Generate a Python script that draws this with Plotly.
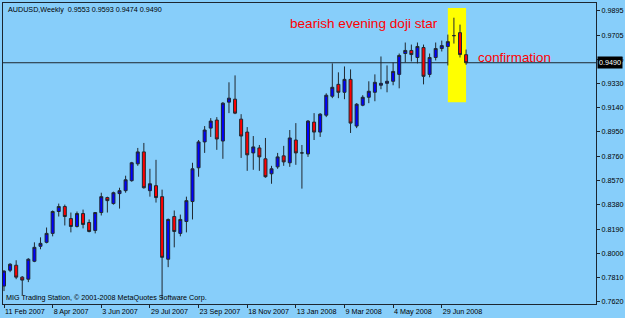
import pandas as pd
import plotly.graph_objects as go

dates = pd.date_range("2007-02-11", periods=77, freq="7D")

open_ = [0.7744, 0.7868, 0.7907, 0.7814, 0.7798, 0.7938, 0.8055, 0.8086, 0.8156, 0.8327,
         0.8366, 0.8272, 0.8210, 0.8311, 0.8241, 0.8179, 0.8319, 0.8436, 0.8389, 0.8467,
         0.8490, 0.8568, 0.8700, 0.8793, 0.8490, 0.8529, 0.8443, 0.7954, 0.8288, 0.8156,
         0.8249, 0.8405, 0.8669, 0.8871, 0.8979, 0.9042, 0.8878, 0.9182, 0.9205, 0.9049,
         0.8948, 0.8785, 0.8824, 0.8739, 0.8622, 0.8676, 0.8762, 0.8708, 0.8886, 0.8785,
         0.8777, 0.9026, 0.8948, 0.9080, 0.9228, 0.9321, 0.9259, 0.9360, 0.8995, 0.9158,
         0.9220, 0.9259, 0.9314, 0.9329, 0.9345, 0.9399, 0.9562, 0.9586, 0.9531, 0.9609,
         0.9399, 0.9531, 0.9601, 0.9617, 0.9702, 0.9725, 0.9553]
high = [0.7868, 0.7923, 0.7946, 0.7822, 0.7962, 0.8086, 0.8125, 0.8202, 0.8335, 0.8389,
        0.8381, 0.8319, 0.8327, 0.8342, 0.8265, 0.8319, 0.8474, 0.8443, 0.8482, 0.8513,
        0.8607, 0.8715, 0.8824, 0.8863, 0.8661, 0.8731, 0.8498, 0.8272, 0.8335, 0.8303,
        0.8443, 0.8708, 0.8886, 0.8995, 0.9057, 0.9065, 0.9182, 0.9337, 0.9391, 0.9088,
        0.8987, 0.8917, 0.8847, 0.8902, 0.8684, 0.8785, 0.8840, 0.8964, 0.9018, 0.8847,
        0.9042, 0.9096, 0.9096, 0.9251, 0.9485, 0.9415, 0.9461, 0.9438, 0.9174, 0.9236,
        0.9345, 0.9399, 0.9539, 0.9469, 0.9492, 0.9562, 0.9648, 0.9632, 0.9648, 0.9632,
        0.9562, 0.9648, 0.9663, 0.9710, 0.9842, 0.9788, 0.9593]
low = [0.7705, 0.7853, 0.7798, 0.7674, 0.7775, 0.7931, 0.8032, 0.8078, 0.8133, 0.8288,
       0.8218, 0.8164, 0.8202, 0.8195, 0.8164, 0.8156, 0.8296, 0.8319, 0.8381, 0.8350,
       0.8474, 0.8560, 0.8684, 0.8506, 0.8443, 0.8397, 0.7643, 0.7892, 0.8047, 0.8133,
       0.8164, 0.8265, 0.8599, 0.8785, 0.8910, 0.8809, 0.8739, 0.9096, 0.9088, 0.8746,
       0.8645, 0.8653, 0.8645, 0.8591, 0.8544, 0.8661, 0.8684, 0.8676, 0.8692, 0.8506,
       0.8754, 0.8886, 0.8910, 0.9065, 0.9213, 0.9213, 0.9205, 0.8941, 0.8979, 0.9150,
       0.9174, 0.9189, 0.9283, 0.9259, 0.9314, 0.9290, 0.9492, 0.9500, 0.9485, 0.9321,
       0.9376, 0.9508, 0.9578, 0.9469, 0.9640, 0.9531, 0.9474]
close = [0.7861, 0.7915, 0.7814, 0.7791, 0.7954, 0.8047, 0.8078, 0.8156, 0.8327, 0.8366,
         0.8288, 0.8210, 0.8311, 0.8226, 0.8171, 0.8319, 0.8443, 0.8412, 0.8474, 0.8490,
         0.8575, 0.8708, 0.8793, 0.8513, 0.8544, 0.8436, 0.7969, 0.8265, 0.8171, 0.8265,
         0.8412, 0.8661, 0.8871, 0.8964, 0.9034, 0.8894, 0.9174, 0.9213, 0.9096, 0.8917,
         0.8770, 0.8832, 0.8754, 0.8599, 0.8661, 0.8754, 0.8715, 0.8902, 0.8785, 0.8785,
         0.9034, 0.8948, 0.9088, 0.9236, 0.9298, 0.9259, 0.9360, 0.9018, 0.9166, 0.9220,
         0.9267, 0.9337, 0.9329, 0.9345, 0.9422, 0.9547, 0.9586, 0.9554, 0.9617, 0.9384,
         0.9531, 0.9601, 0.9624, 0.9655, 0.9702, 0.9554, 0.9490]

date_ticks = list(dates[::8])

price_ticks = [0.7620, 0.7810, 0.8000, 0.8190, 0.8380, 0.8570, 0.8760, 0.8950,
               0.9140, 0.9330, 0.9515, 0.9705, 0.9895]
price_labels = ["0.7620", "0.7810", "0.8000", "0.8190", "0.8380", "0.8570", "0.8760",
                "0.8950", "0.9140", "0.9330", "0.9515", "0.9705", "0.9895"]

BG = "#87CEFA"
FRAME = "#1c2630"
FONT = "Liberation Sans, Arial, sans-serif"

fig = go.Figure()
fig.add_trace(go.Candlestick(
    x=dates, open=open_, high=high, low=low, close=close,
    increasing=dict(line=dict(color="#202830", width=1), fillcolor="#0000FF"),
    decreasing=dict(line=dict(color="#202830", width=1), fillcolor="#FF0000"),
    whiskerwidth=0, hoverinfo="skip", showlegend=False,
))

# highlighted pattern rectangle
fig.add_shape(type="rect", xref="x", yref="y",
              x0=dates[73], x1=dates[76], y0=0.9181, y1=0.9918,
              fillcolor="#FFFF00", line=dict(width=0), layer="below")
# bid line
fig.add_shape(type="line", xref="paper", yref="y", x0=0, x1=1,
              y0=close[-1], y1=close[-1], line=dict(color=FRAME, width=1), layer="below")

fig.add_annotation(xref="paper", yref="paper", x=0, y=1, xanchor="left", yanchor="middle",
                   xshift=3, yshift=-6, showarrow=False,
                   text="AUDUSD,Weekly  %.4f %.4f %.4f %.4f" % (open_[-1], high[-1], low[-1], close[-1]),
                   font=dict(family=FONT, size=7.2, color="black"))
fig.add_annotation(xref="paper", yref="paper", x=0, y=0, xanchor="left", yanchor="middle",
                   xshift=1, yshift=7, showarrow=False,
                   text="MIG Trading Station, © 2001-2008 MetaQuotes Software Corp.",
                   font=dict(family=FONT, size=7.2, color="black"))
fig.add_annotation(xref="paper", yref="paper", x=0.4798, y=0.9307, xanchor="left", yanchor="middle",
                   showarrow=False, text="bearish evening doji star",
                   font=dict(family=FONT, size=13.6, color="#FF0000"))
fig.add_annotation(xref="paper", yref="paper", x=0.798, y=0.8185, xanchor="left", yanchor="middle",
                   showarrow=False, text="confirmation",
                   font=dict(family=FONT, size=13.4, color="#FF0000"))
fig.add_annotation(xref="paper", yref="y", x=1, y=close[-1], xanchor="left", yanchor="middle",
                   xshift=1, showarrow=False, text="%.4f" % close[-1],
                   bgcolor="black", borderpad=1,
                   font=dict(family=FONT, size=7.2, color="white"))

fig.update_layout(
    width=625, height=318,
    margin=dict(l=2, r=29, t=2, b=13),
    paper_bgcolor=BG, plot_bgcolor=BG,
    hovermode=False,
    font=dict(family=FONT, size=7.2, color="black"),
    xaxis=dict(
        type="date",
        range=["2007-02-09 20:00", "2008-12-23 14:00"],
        rangeslider=dict(visible=False),
        showgrid=False, zeroline=False,
        showline=True, linecolor=FRAME, linewidth=1, mirror=True,
        ticks="outside", ticklen=3, tickcolor=FRAME,
        tickvals=date_ticks, tickangle=0,
        tickformat="%-d %b %Y", ticklabelposition="outside right",
        tickfont=dict(family=FONT, size=7.2, color="black"),
    ),
    yaxis=dict(
        side="right",
        range=[0.7604, 0.9957],
        showgrid=False, zeroline=False,
        showline=True, linecolor=FRAME, linewidth=1, mirror=True,
        ticks="outside", ticklen=3, tickcolor=FRAME,
        tickvals=price_ticks, ticktext=price_labels,
        tickfont=dict(family=FONT, size=7.2, color="black"),
    ),
)

fig.write_html("out.html")
